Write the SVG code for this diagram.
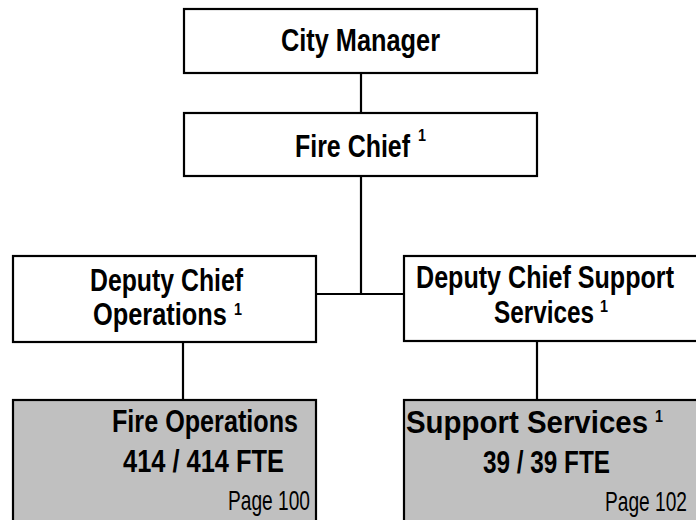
<svg xmlns="http://www.w3.org/2000/svg" width="696" height="520" viewBox="0 0 696 520">
<style>
.box{fill:#ffffff;stroke:#000;stroke-width:2.2}
.grey{fill:#c0c0c0;stroke:#000;stroke-width:2.2}
.b{font-family:"Liberation Sans",Arial,sans-serif;font-weight:bold;font-size:31px;fill:#000}
.r{font-family:"Liberation Sans",Arial,sans-serif;font-size:28px;fill:#000}
.s{font-family:"Liberation Sans",Arial,sans-serif;font-weight:bold;font-size:17px;fill:#000}
.ln{stroke:#000;stroke-width:2.2;fill:none}
</style>
<rect width="696" height="520" fill="#ffffff"/>
<g id="connectors">
<line class="ln" x1="361" y1="73" x2="361" y2="113"/>
<line class="ln" x1="361" y1="176" x2="361" y2="294"/>
<line class="ln" x1="316" y1="294" x2="404" y2="294"/>
<line class="ln" x1="183" y1="342" x2="183" y2="400"/>
<line class="ln" x1="537" y1="341" x2="537" y2="400"/>
</g>
<g id="city-manager">
<rect class="box" x="184" y="9" width="353" height="64"/>
<text class="b" x="281" y="51" textLength="159" lengthAdjust="spacingAndGlyphs">City Manager</text>
</g>
<g id="fire-chief">
<rect class="box" x="184" y="113" width="353" height="63"/>
<text class="b" x="295" y="157" textLength="115" lengthAdjust="spacingAndGlyphs">Fire Chief</text>
<text class="s" x="418" y="141" textLength="8" lengthAdjust="spacingAndGlyphs">1</text>
</g>
<g id="deputy-ops">
<rect class="box" x="13" y="256" width="303" height="86"/>
<text class="b" x="90" y="291" textLength="153" lengthAdjust="spacingAndGlyphs">Deputy Chief</text>
<text class="b" x="93" y="325" textLength="134" lengthAdjust="spacingAndGlyphs">Operations</text>
<text class="s" x="234" y="315" textLength="8" lengthAdjust="spacingAndGlyphs">1</text>
</g>
<g id="deputy-support">
<rect class="box" x="404" y="256" width="300" height="85"/>
<text class="b" x="416" y="288" textLength="258" lengthAdjust="spacingAndGlyphs">Deputy Chief Support</text>
<text class="b" x="494" y="323" textLength="100" lengthAdjust="spacingAndGlyphs">Services</text>
<text class="s" x="600" y="312" textLength="8" lengthAdjust="spacingAndGlyphs">1</text>
</g>
<g id="fire-operations">
<rect class="grey" x="13" y="400" width="303" height="130"/>
<text class="b" x="112" y="432" textLength="186" lengthAdjust="spacingAndGlyphs">Fire Operations</text>
<text class="b" x="123" y="472" textLength="161" lengthAdjust="spacingAndGlyphs">414 / 414 FTE</text>
<text class="r" x="228" y="510" textLength="82" lengthAdjust="spacingAndGlyphs">Page 100</text>
</g>
<g id="support-services">
<rect class="grey" x="404" y="400" width="300" height="130"/>
<text class="b" x="406" y="433" textLength="242" lengthAdjust="spacingAndGlyphs">Support Services</text>
<text class="s" x="655" y="422" textLength="8" lengthAdjust="spacingAndGlyphs">1</text>
<text class="b" x="483" y="473" textLength="127" lengthAdjust="spacingAndGlyphs">39 / 39 FTE</text>
<text class="r" x="605" y="511" textLength="82" lengthAdjust="spacingAndGlyphs">Page 102</text>
</g>
</svg>
